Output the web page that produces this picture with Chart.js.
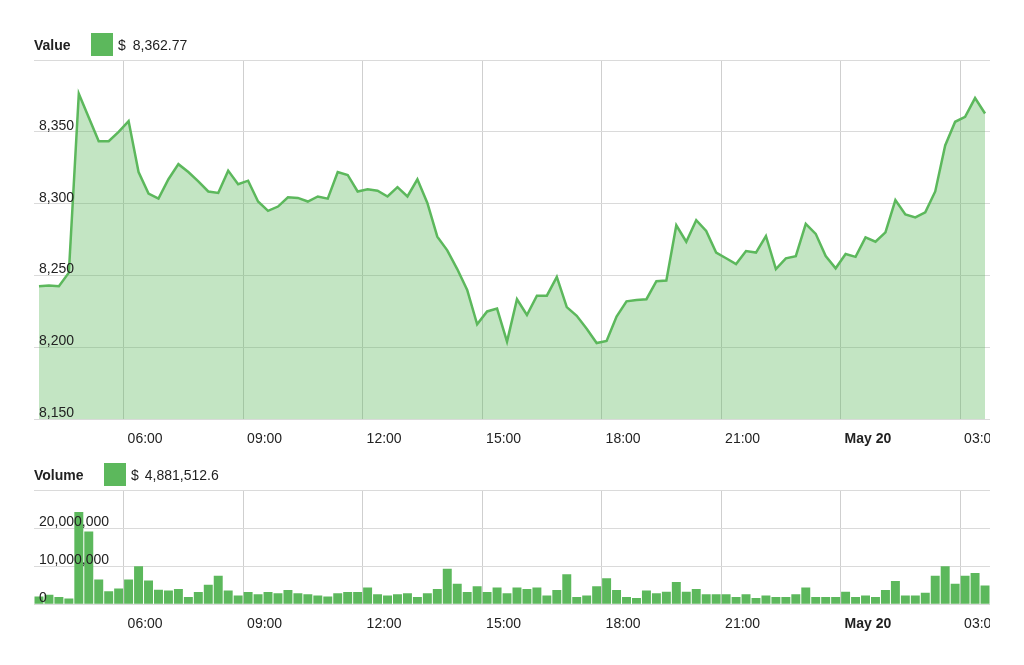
<!DOCTYPE html>
<html>
<head>
<meta charset="utf-8">
<script src="https://cdn.jsdelivr.net/npm/chart.js@4"></script>
<style>
body { margin: 0; background: #fff; font-family: 'Liberation Sans', Arial, sans-serif; color: #222; }
.wrap { position: relative; width: 1024px; height: 665px; overflow: hidden; }
canvas { position: absolute; left: 0; }
.legend { position: absolute; left: 34px; height: 23px; display: flex; align-items: center; font-size: 14px; }
.legend b { display: inline-block; }
.legend .box { width: 22px; height: 23px; background: #5cb85c; margin-right: 5px; }
.legend .cur { margin-right: 7px; }
</style>
</head>
<body>
<div class="wrap">
  <canvas id="priceChart" width="990" height="460" style="top:0"></canvas>
  <canvas id="volumeChart" width="990" height="210" style="top:440px"></canvas>
  <div class="legend" style="top:33px"><b style="width:57px">Value</b><span class="box"></span><span class="cur">$</span><span>8,362.77</span></div>
  <div class="legend" style="top:463px"><b style="width:70px">Volume</b><span class="box"></span><span class="cur" style="margin-right:6px">$</span><span>4,881,512.6</span></div>
</div>
<script>
// 15분 간격, 5월 19일 03:45 부터 24시간
const startMinutes = 3 * 60 + 45;
const categories = [];
for (let i = 0; i < 96; i++) {
    const m = (startMinutes + i * 15) % (24 * 60);
    categories.push(String(Math.floor(m / 60)).padStart(2, '0') + ':' + String(m % 60).padStart(2, '0'));
}

// 축 라벨 (3시간 간격)
const axisTicks = {
    '06:00': '06:00', '09:00': '09:00', '12:00': '12:00', '15:00': '15:00',
    '18:00': '18:00', '21:00': '21:00', '00:00': 'May 20', '03:00': '03:00'
};

const prices = [
    8242.5, 8243, 8242.5, 8252, 8376.5, 8360, 8343.5, 8343.5, 8350, 8357.5,
    8322, 8307, 8303.5, 8317, 8327.5, 8322, 8315.5, 8308.5, 8307.5, 8323,
    8313.5, 8316, 8301.5, 8295, 8298, 8304.5, 8304, 8301.5, 8305, 8303.5,
    8322, 8320, 8308.5, 8310, 8309, 8305, 8311.5, 8305, 8317, 8300.5,
    8277, 8267.5, 8254.5, 8240, 8216, 8225, 8227, 8204, 8233.5, 8222.5,
    8236, 8236, 8249, 8228, 8222, 8213, 8203, 8204.5, 8221.5, 8232,
    8233, 8233.5, 8246, 8246.5, 8285, 8273.5, 8288.5, 8281, 8266, 8262,
    8258, 8267, 8266, 8277.5, 8254.5, 8262, 8263.5, 8286, 8279, 8263.5,
    8255, 8265, 8263, 8276.5, 8273.5, 8280, 8302.5, 8292.5, 8290.5, 8294,
    8308.5, 8340.5, 8357, 8360.5, 8373.5, 8362.77
];

const volumes = [
    2000000, 2500000, 1900000, 1500000, 24200000, 19100000, 6500000, 3400000, 4100000, 6500000,
    10000000, 6200000, 3800000, 3600000, 4000000, 1900000, 3200000, 5100000, 7500000, 3600000,
    2300000, 3200000, 2600000, 3200000, 2900000, 3700000, 2900000, 2600000, 2300000, 2000000,
    2900000, 3200000, 3200000, 4400000, 2600000, 2300000, 2600000, 2900000, 1900000, 2900000,
    4000000, 9300000, 5400000, 3200000, 4700000, 3200000, 4400000, 2900000, 4400000, 4000000,
    4400000, 2300000, 3700000, 7900000, 1900000, 2300000, 4700000, 6800000, 3700000, 1900000,
    1600000, 3600000, 2900000, 3300000, 5800000, 3300000, 4000000, 2600000, 2600000, 2600000,
    1900000, 2600000, 1600000, 2300000, 1900000, 1900000, 2600000, 4400000, 1900000, 1900000,
    1900000, 3300000, 1900000, 2300000, 1900000, 3700000, 6100000, 2300000, 2300000, 3000000,
    7500000, 10000000, 5400000, 7500000, 8200000, 4881512.6
];

const GREEN = '#5cb85c';
const FONT = "'Liberation Sans', Arial, sans-serif";

function xScale() {
    return {
        type: 'category',
        offset: true,
        afterFit: s => { s.paddingLeft = 0; s.paddingRight = 0; },
        grid: {
            offset: true,
            drawTicks: false,
            color: ctx => axisTicks[categories[ctx.index]] ? '#cfcfcf' : 'rgba(0,0,0,0)'
        },
        border: { display: false },
        ticks: {
            autoSkip: false,
            maxRotation: 0,
            align: 'start',
            labelOffset: -1,
            padding: 12,
            color: '#222',
            font: ctx => ({ family: FONT, size: 14, weight: categories[ctx.index] === '00:00' ? 'bold' : 'normal' }),
            callback: (value, index) => axisTicks[categories[index]] || ''
        }
    };
}

function yScale(min, max, step) {
    return {
        min: min,
        max: max,
        afterFit: s => { s.width = 0; },
        grid: { drawTicks: false, color: '#dadada' },
        border: { display: false },
        ticks: {
            stepSize: step,
            mirror: true,
            padding: 5,
            labelOffset: -6,
            z: 1,
            color: '#222',
            font: { family: FONT, size: 14 },
            callback: v => v === max ? '' : v.toLocaleString('en-US')
        }
    };
}

new Chart(document.getElementById('priceChart'), {
    type: 'line',
    data: {
        labels: categories,
        datasets: [{
            data: prices,
            borderColor: GREEN,
            borderWidth: 2.5,
            backgroundColor: 'rgba(92, 184, 92, 0.37)',
            fill: 'start',
            pointRadius: 0,
            tension: 0
        }]
    },
    options: {
        responsive: false,
        animation: false,
        layout: { padding: { top: 60, left: 34, right: 0, bottom: 0 } },
        scales: { x: xScale(), y: yScale(8150, 8400, 50) },
        plugins: { legend: { display: false }, tooltip: { enabled: false } }
    }
});

new Chart(document.getElementById('volumeChart'), {
    type: 'bar',
    data: {
        labels: categories,
        datasets: [{
            data: volumes,
            backgroundColor: GREEN,
            barPercentage: 0.9,
            categoryPercentage: 1.0
        }]
    },
    options: {
        responsive: false,
        animation: false,
        layout: { padding: { top: 50, left: 34, right: 0, bottom: 5 } },
        scales: { x: xScale(), y: yScale(0, 30000000, 10000000) },
        plugins: { legend: { display: false }, tooltip: { enabled: false } }
    }
});
</script>
</body>
</html>
